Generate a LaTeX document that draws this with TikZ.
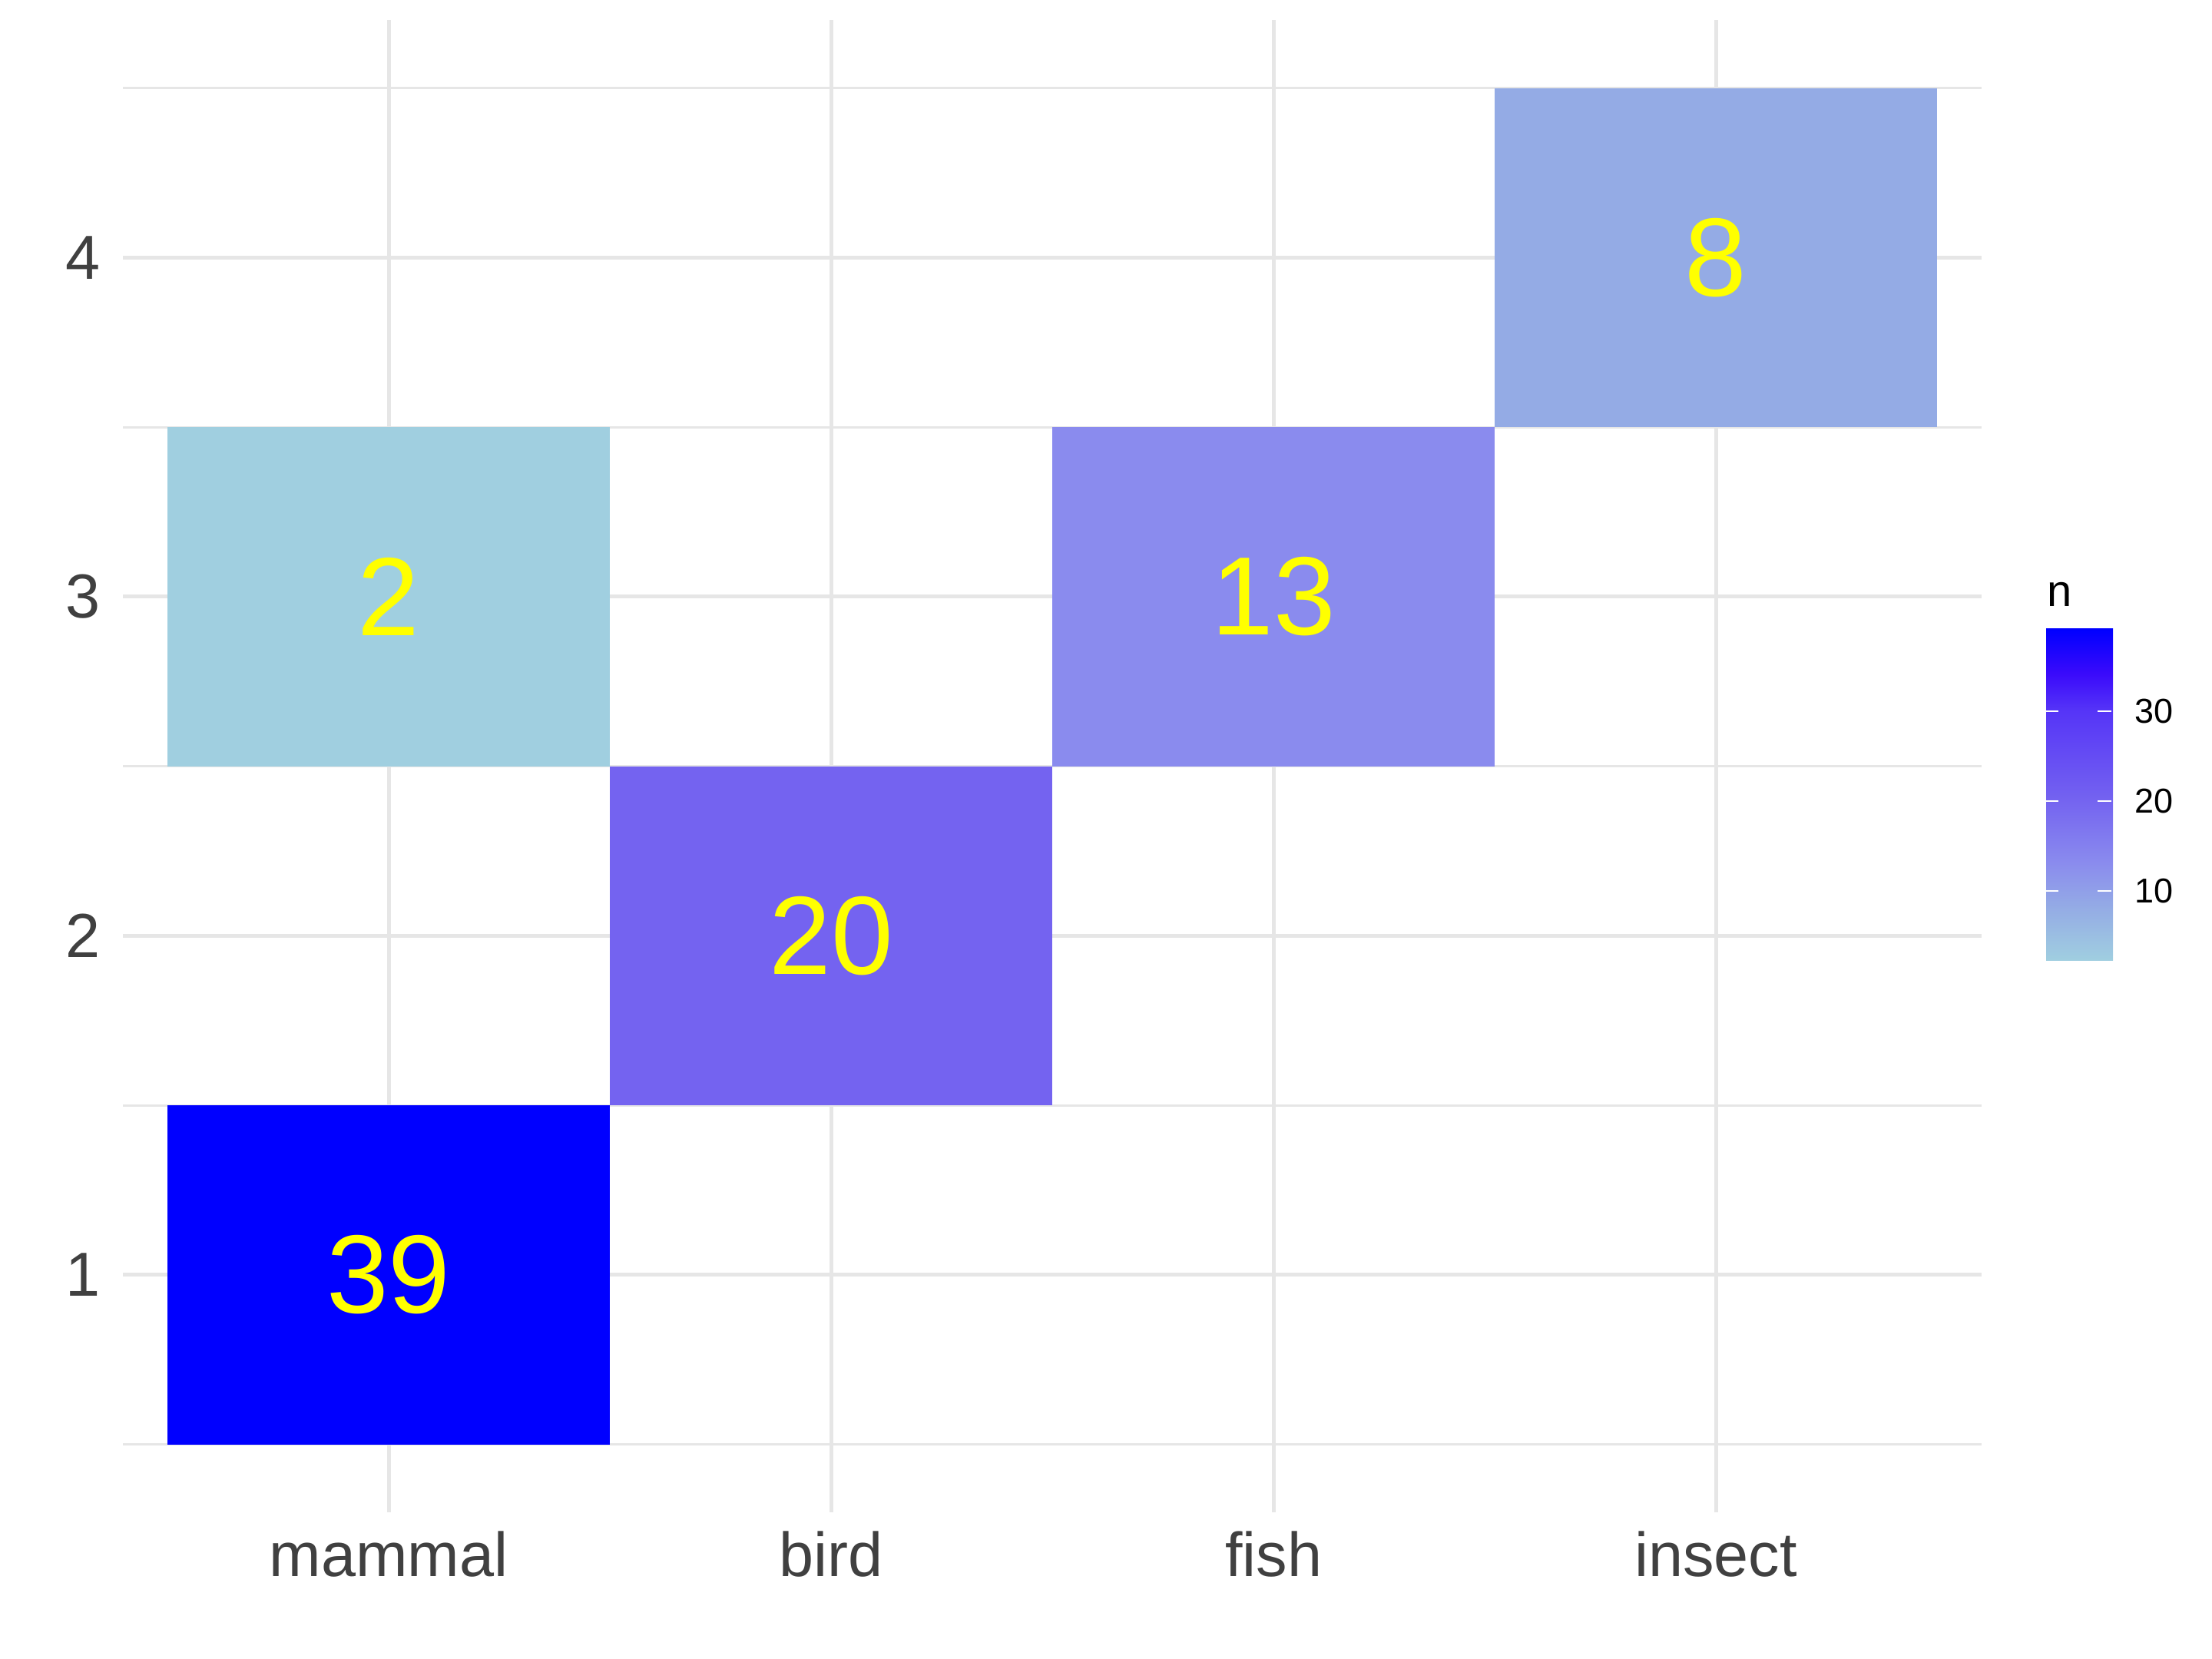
\documentclass[tikz,border=0pt]{standalone}
\usepackage{fontspec}
\setmainfont{Liberation Sans}
\definecolor{gridgrey}{HTML}{E6E6E6}
\definecolor{axisgrey}{HTML}{404040}
\definecolor{nlow}{HTML}{A0CFE0}
\definecolor{neight}{HTML}{94ABE5}
\definecolor{nthirteen}{HTML}{8A8BEE}
\definecolor{ntwenty}{HTML}{7463F0}
\definecolor{nthirty}{HTML}{5534F7}
\definecolor{nthirtyfour}{HTML}{3A0AFB}
\definecolor{nhigh}{HTML}{0000FF}
\definecolor{numyellow}{HTML}{FFFF00}
\pgfdeclareverticalshading{nscale}{100bp}{color(0bp)=(nlow); color(25bp)=(nlow);
  color(33.11bp)=(neight); color(39.86bp)=(nthirteen); color(49.32bp)=(ntwenty);
  color(62.84bp)=(nthirty); color(68.24bp)=(nthirtyfour); color(75bp)=(nhigh);
  color(100bp)=(nhigh)}
\begin{document}
\begin{tikzpicture}[major/.style={draw=gridgrey, line width=0.5pt},
    minor/.style={draw=gridgrey, line width=0.28pt},
    tile/.style={minimum width=57.6pt, minimum height=44.15pt, inner sep=0pt,
      text=numyellow, font=\fontsize{14.5}{14.5}\selectfont},
    ticklabel/.style={inner sep=0pt, text=axisgrey, font=\fontsize{8.1}{8.1}\selectfont},
    keylabel/.style={inner sep=0pt, font=\fontsize{4.5}{4.5}\selectfont}]
  \useasboundingbox (0,0) rectangle (288pt,216pt);
  \begin{scope}[shift={(-7pt,5.85pt)}, x=57.6pt, y=44.15pt]
    % grid
    \foreach \v in {0.5,1.5,...,4.5} \draw[minor] (0.4,\v) -- (4.6,\v);
    \foreach \v in {1,...,4} \draw[major] (0.4,\v) -- (4.6,\v);
    \foreach \d in {1,...,4} \draw[major] (\d,0.3) -- (\d,4.7);
    % tiles
    \node[tile, fill=nhigh] (mammal1) at (1,1) {39};
    \node[tile, fill=ntwenty] (bird2) at (2,2) {20};
    \node[tile, fill=nlow] (mammal3) at (1,3) {2};
    \node[tile, fill=nthirteen] (fish3) at (3,3) {13};
    \node[tile, fill=neight] (insect4) at (4,4) {8};
    % axes
    \foreach \v in {1,...,4} \node[ticklabel, anchor=east] (y\v) at (0.352,\v) {\v};
    \foreach \d/\name in {1/mammal,2/bird,3/fish,4/insect}
      \node[ticklabel, anchor=base] (x\d) at (\d,0.112) {\name};
  \end{scope}
  % legend
  \node[inner sep=0pt, anchor=base west, font=\fontsize{5.8}{5.8}\selectfont] (ntitle) at (266.3pt,137pt) {n};
  \node[shade, shading=nscale, inner sep=0pt, minimum width=8.7pt, minimum height=43.2pt,
    anchor=south west] (nbar) at (266.2pt,90.7pt) {};
  \foreach \n in {10,20,30} {
    \pgfmathsetmacro\ty{90.7+(\n-2)*1.1676}
    \draw[white, line width=0.2pt] (266.2pt,\ty pt) -- ++(1.8pt,0);
    \draw[white, line width=0.2pt] (274.9pt,\ty pt) -- ++(-1.8pt,0);
    \node[keylabel, anchor=west] (k\n) at (277.7pt,\ty pt) {\n};
  }
\end{tikzpicture}
\end{document}
